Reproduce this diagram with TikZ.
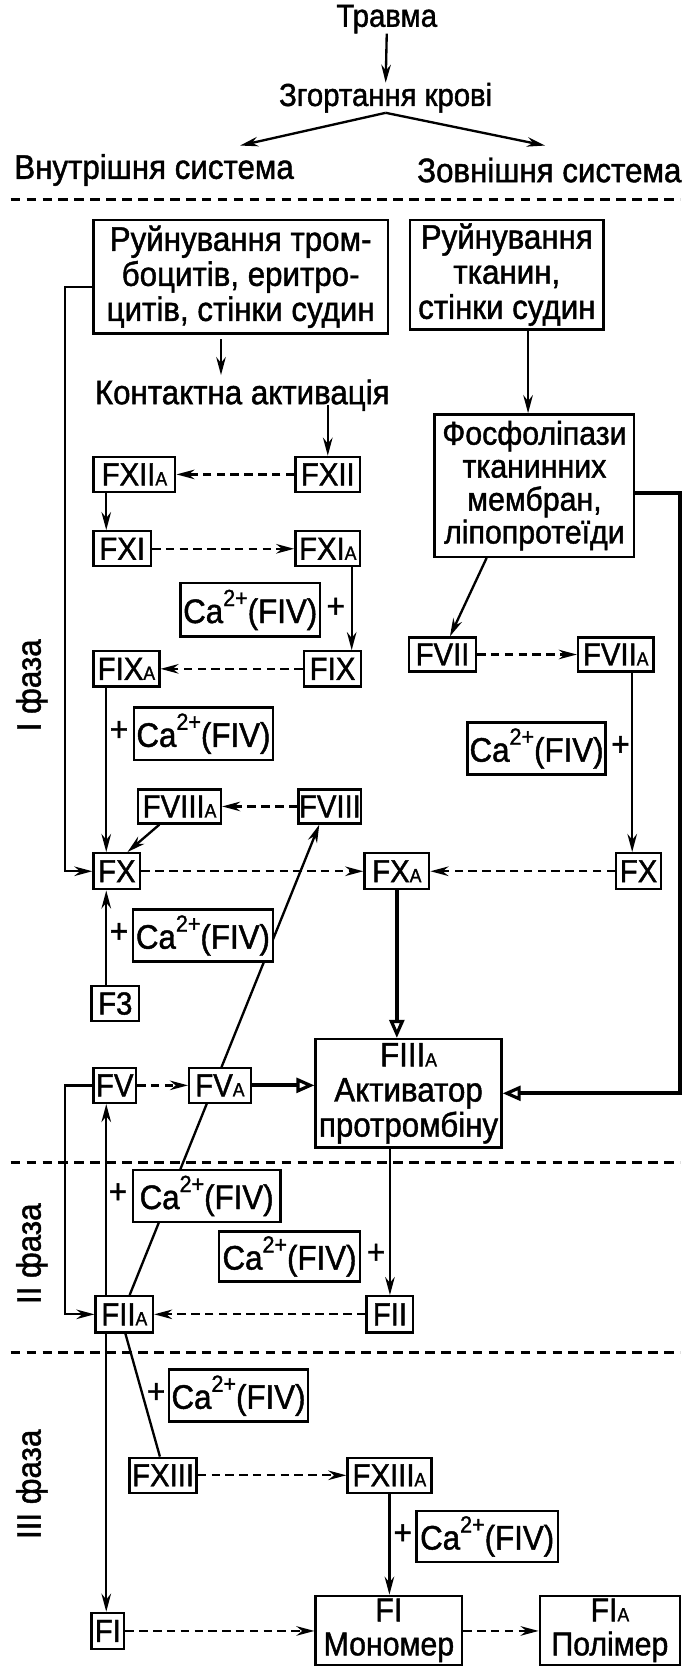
\documentclass[tikz,border=0pt]{standalone}
\usepackage{fontspec}
\setmainfont{Liberation Sans}[FakeStretch=0.92, FakeBold=1.3]
\usetikzlibrary{arrows.meta,calc,backgrounds}
\newcommand\subA{{\fontsize{18}{18}\selectfont A}}
\newcommand\caf{Ca\raisebox{16pt}{\fontsize{22}{22}\selectfont 2+}(FIV)}
\begin{document}
\begin{tikzpicture}[x=1pt,y=-1pt,
  every node/.style={font=\fontsize{32}{33}\selectfont, inner sep=0pt, align=center},
  fb/.style={draw, line width=2.2pt, fill=white, inner sep=0pt},
  ftx/.style={font=\fontsize{30}{32}\selectfont},
  hd/.style={font=\fontsize{30}{32}\selectfont},
  ar/.style={line width=2.2pt, -{Stealth[length=17pt,width=9pt]}},
  da/.style={ar, dash pattern=on 8pt off 5pt},
  tk/.style={line width=4pt, -{Triangle[open,length=17pt,width=14pt,line width=3pt]}},
  ln/.style={line width=2.2pt},
  sep/.style={line width=2.6pt, dash pattern=on 9pt off 6pt},
]
\useasboundingbox (0,0) rectangle (653,1568);
% helper coordinates
\coordinate (c61) at (61,0);
\coordinate (c100) at (100,0);
\coordinate (c208) at (208,0);
\coordinate (c331) at (331,0);
\coordinate (c497) at (497,0);
\coordinate (c595) at (595,0);
\coordinate (c640) at (640,0);
\coordinate (cL) at (226,137);
\coordinate (cR) at (513,137);

% headings
\node[hd] (trav) at (364,18) {Травма};
\node[hd] (zg) at (363,92) {Згортання крові};
\node (vn) at (145,160) {Внутрішня система};
\node (zv) at (517,160) {Зовнішня система};
\draw[ar] (trav.south) -- (zg.north);
\draw[ar] (zg.south) -- (cL);
\draw[ar] (zg.south) -- (cR);

% separators
\draw[sep] (10,188) -- (640,188);
\draw[sep] (10,1094) -- (640,1094);
\draw[sep] (10,1273) -- (640,1273);

% phase labels
\node[rotate=90] (ph1) at (30,645) {I фаза};
\node[rotate=90] (ph2) at (30,1180) {II фаза};
\node[rotate=90] (ph3) at (30,1397) {III фаза};

% big boxes
\node[fb, minimum width=277pt, minimum height=107pt] (b1) at (226.5,260.5) {Руйнування тром-\\боцитів, еритро-\\цитів, стінки судин};
\node[fb, minimum width=182pt, minimum height=103pt] (b2) at (477,258.5) {Руйнування\\тканин,\\стінки судин};
\node (ka) at (228,372) {Контактна активація};
\node[fb, minimum width=188pt, minimum height=134pt, font=\fontsize{31}{31}\selectfont] (ph) at (503,457) {Фосфоліпази\\тканинних\\мембран,\\ліпопротеїди};

% factor boxes
\node[fb,ftx, minimum width=61pt, minimum height=33pt] (fxii) at (308.5,446.5) {FXII};
\node[fb,ftx, minimum width=77pt, minimum height=33pt] (fxiia) at (126.5,446.5) {FXII\subA};
\node[fb,ftx, minimum width=54pt, minimum height=33pt] (fxi) at (115,516.5) {FXI};
\node[fb,ftx, minimum width=61pt, minimum height=33pt] (fxia) at (308.5,516.5) {FXI\subA};
\node[fb, minimum width=131pt, minimum height=50pt] (ca1) at (235.5,574) {\caf};
\node (p1) at (316,572) {+};
\node[fb,ftx, minimum width=54pt, minimum height=33pt] (fix) at (313,629.5) {FIX};
\node[fb,ftx, minimum width=62pt, minimum height=33pt] (fixa) at (119,629.5) {FIX\subA};
\node[fb,ftx, minimum width=63pt, minimum height=32pt] (fvii) at (416.5,616) {FVII};
\node[fb,ftx, minimum width=71pt, minimum height=32pt] (fviia) at (579.5,616) {FVII\subA};
\node[fb, minimum width=131pt, minimum height=49pt] (ca2) at (191.5,690.5) {\caf};
\node (p2) at (112,688) {+};
\node[fb, minimum width=130pt, minimum height=49pt] (caR) at (505,704.5) {\caf};
\node (pR) at (584,702) {+};
\node[fb,ftx, minimum width=78pt, minimum height=32pt] (fviiia) at (169,759) {FVIII\subA};
\node[fb,ftx, minimum width=59pt, minimum height=32pt] (fviii) at (310.5,759) {FVIII};
\node[fb,ftx, minimum width=44pt, minimum height=34pt] (fx) at (110,820) {FX};
\node[fb,ftx, minimum width=61pt, minimum height=34pt] (fxa) at (373.5,820) {FX\subA};
\node[fb,ftx, minimum width=42pt, minimum height=34pt] (fxr) at (601,820) {FX};
\node[fb, minimum width=132pt, minimum height=49pt] (ca3) at (191,880.5) {\caf};
\node (p3) at (112,878) {+};
\node[fb,ftx, minimum width=45pt, minimum height=33pt] (f3) at (108.5,944.5) {F3};
\node[fb, minimum width=175pt, minimum height=102pt] (f3a) at (384.5,1029) {FIII\subA\\Активатор\\протромбіну};
\node[fb,ftx, minimum width=40pt, minimum height=33pt] (fv) at (108,1021.5) {FV};
\node[fb,ftx, minimum width=58pt, minimum height=33pt] (fva) at (207,1021.5) {FV\subA};
\node[fb, minimum width=139pt, minimum height=49pt] (ca4) at (194.5,1125.5) {\caf};
\node (p4) at (111,1123) {+};
\node[fb, minimum width=133pt, minimum height=47pt] (ca5) at (272.5,1182.5) {\caf};
\node (p5) at (354,1180) {+};
\node[fb,ftx, minimum width=54pt, minimum height=34pt] (fiia) at (117,1237) {FII\subA};
\node[fb,ftx, minimum width=44pt, minimum height=34pt] (fii) at (367,1237) {FII};
\node[fb, minimum width=131pt, minimum height=49pt] (ca6) at (224.5,1313.5) {\caf};
\node (p6) at (147,1311) {+};
\node[fb,ftx, minimum width=63pt, minimum height=33pt] (fxiii) at (153.5,1388.5) {FXIII};
\node[fb,ftx, minimum width=79pt, minimum height=33pt] (fxiiia) at (366.5,1388.5) {FXIII\subA};
\node[fb, minimum width=133pt, minimum height=48pt] (ca7) at (458.5,1446) {\caf};
\node (p7) at (379,1444) {+};
\node[fb,ftx, minimum width=31pt, minimum height=34pt] (fi) at (101.5,1535) {FI};
\node[fb, minimum width=138pt, minimum height=65pt, font=\fontsize{31}{32}\selectfont] (mono) at (366,1534.5) {FI\\Мономер};
\node[fb, minimum width=132pt, minimum height=65pt, font=\fontsize{31}{32}\selectfont] (poly) at (574,1534.5) {FI\subA\\Полімер};

% background: white page and the long diagonal line behind boxes
\begin{pgfonlayer}{background}
\fill[white] (0,0) rectangle (653,1568);
\draw[ar] ($(fiia.north)+(5,0)$) -- ($(fviii.south)+(-10,0)$);
\end{pgfonlayer}

% connectors
\draw[ar, shorten <=4pt, shorten >=4pt] (b1.south -| c208) -- (ka.north -| c208);
\draw[ar] (b2.south -| c497) -- (ph.north -| c497);
\draw[ar] ($(ka.south -| fxii.north)+(0,-6)$) -- (fxii.north);
\draw[da] (fxii.west) -- (fxiia.east);
\draw[ar] (fxiia.south -| c100) -- (fxi.north -| c100);
\draw[da] (fxi.east) -- (fxia.west);
\draw[ar] (fxia.south -| c331) -- (fix.north -| c331);
\draw[da] (fix.west) -- (fixa.east);
\draw[ar] (fixa.south -| c100) -- (fx.north -| c100);
\draw[ar] ($(ph.south)+(-45,0)$) -- ($(fvii.north)+(7,0)$);
\draw[da] (fvii.east) -- (fviia.west);
\draw[ar] (fviia.south -| c595) -- (fxr.north -| c595);
\draw[da] (fviii.west) -- (fviiia.east);
\draw[ar] ($(fviiia.south)+(-19,0)$) -- ($(fx.north)+(10,0)$);
\draw[ar] ($(b1.west)+(0,9.5)$) -| (c61 |- fx.west) -- (fx.west);
\draw[da] (fx.east) -- (fxa.west);
\draw[da] (fxr.west) -- (fxa.east);
\draw[ar] (f3.north -| c100) -- (fx.south -| c100);
\draw[tk] (fxa.south) -- (fxa.south |- f3a.north);
\draw[tk] ($(ph.east)+(0,7)$) -| (c640 |- f3a.east) -- (f3a.east);
\draw[da] (fv.east) -- (fva.west);
\draw[tk] (fva.east) -- (fva.east -| f3a.west);
\draw[ar] (fv.west) -| (c61 |- fiia.west) -- (fiia.west);
\draw[ar] (fiia.north -| c100) -- (fv.south -| c100);
\draw[ar] (fii.north |- f3a.south) -- (fii.north);
\draw[da] (fii.west) -- (fiia.east);
\draw[ar] (fiia.south -| c100) -- (fi.north -| c100);
\draw[ln] ($(fiia.south)+(1,0)$) -- ($(fxiii.north)+(-3,0)$);
\draw[da] (fxiii.east) -- (fxiiia.west);
\draw[ar] (fxiiia.south) -- (fxiiia.south |- mono.north);
\draw[da] (fi.east) -- (mono.west |- fi.east);
\draw[da] (mono.east |- fi.east) -- (poly.west |- fi.east);
\end{tikzpicture}
\end{document}
